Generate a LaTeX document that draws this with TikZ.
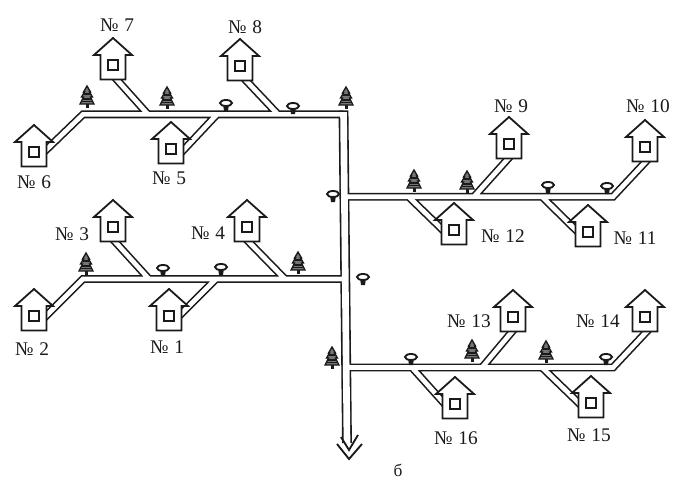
\documentclass[tikz,border=0pt]{standalone}
\usepackage{fontspec}
\setmainfont{Liberation Serif}
\definecolor{dwInk}{HTML}{1A1A1A}
\tikzset{
  wall/.style={draw=dwInk, line width=1.35pt, line join=miter, fill=white},
  numlbl/.style={font=\fontsize{14.5}{16}\selectfont, text=dwInk, inner sep=0pt},
  housepic/.pic={
    \draw[wall] (-12.5,-10) -- (-19,-10) -- (0,-27) -- (19,-10) -- (12.5,-10) -- (12.5,14.5) -- (-12.5,14.5) -- cycle;
    \draw[wall] (-5,-5) rectangle (5,5);
  },
  treepic/.pic={
    \fill[dwInk] (-1.5,6) rectangle (1.5,11);
    \fill[dwInk!60, draw=dwInk, line width=1pt] (0,-11) -- (3.5,-5) -- (2.5,-5) -- (5.5,0) -- (3.5,0) -- (7,7) -- (-7,7) -- (-3.5,0) -- (-5.5,0) -- (-2.5,-5) -- (-3.5,-5) -- cycle;
    \draw[dwInk, line width=1pt] (-3.5,-3) -- (3.5,-3) (-4.5,2) -- (4.5,2) (-5.5,4.5) -- (5.5,4.5);
  },
  hatchpic/.pic={
    \fill[dwInk] (-3,0) -- (-2,7) -- (2,7) -- (3,0) -- cycle;
    \draw[wall, line width=1.4pt] (0,-1) ellipse (6 and 3);
  },
  chevron/.style={draw=dwInk, line width=1.4pt, line join=miter},
}
\newcommand{\branchpaths}{
  (v6) -- (b6) -- (p6)
  (j5) -- (p5) (j7) -- (p7) (j8) -- (p8)
  (v2) -- (b2) -- (p2)
  (j1) -- (p1) (j3) -- (p3) (j4) -- (p4)
  (v9) -- (b10) -- (p10)
  (j9) -- (p9) (j12) -- (p12) (j11) -- (p11)
  (v13) -- (b14) -- (p14)
  (j13) -- (p13) (j16) -- (p16) (j15) -- (p15)
}

\begin{document}
\begin{tikzpicture}[x=0.75pt, y=-0.75pt]
  \useasboundingbox (0,0) rectangle (675,482);

  % main line and bends
  \coordinate (top) at (343.5,110.5);
  \coordinate (bot) at (347,443);
  \coordinate (b6)  at (83,114.4);
  \coordinate (v6)  at (343.5,114.4);
  \coordinate (b2)  at (83,279);
  \coordinate (v2)  at (346,279);
  \coordinate (v9)  at (346,196.7);
  \coordinate (b10) at (613,196.7);
  \coordinate (v13) at (346,367.5);
  \coordinate (b14) at (613,367.5);

  % junction on the street, end inside the house
  \foreach \n/\jx/\jy/\px/\py in {
    5/217/114.4/177/157, 7/148/114.4/110/72, 8/278/114.4/238/72,
    1/216/279/175/320, 3/149/279/109/235, 4/285/279/242/235,
    9/474/196.7/515/151, 12/408.5/196.7/450/237, 11/542/196.7/585/239,
    13/482/367.5/516/327, 16/412/367.5/451/411, 15/542/367.5/586/410}{
    \coordinate (j\n) at (\jx,\jy);
    \coordinate (p\n) at (\px,\py);
  }
  \coordinate (p6) at (43,153);
  \coordinate (p2) at (42,320);
  \coordinate (p10) at (652,155);
  \coordinate (p14) at (651,327);

  % pipes, ink first and then the white core
  \draw[draw=dwInk, line width=7.4pt] (top) -- (bot);
  \draw[draw=dwInk, line width=5.9pt] \branchpaths;
  \draw[draw=white, line width=5pt, shorten <=1.2pt] (top) -- (bot);
  \draw[draw=white, line width=3.5pt] \branchpaths;

  % arrow at the lower end
  \coordinate (tip1) at (349,450);
  \coordinate (tip2) at (349,459);
  \draw[chevron] (341,437) -- (tip1) -- (358,435);
  \draw[chevron] (337,444) -- (tip2) -- (362,444);

  % houses
  \foreach \n/\x/\y in {
    1/169/316, 2/34/316, 3/113/227, 4/247/227,
    5/171/149, 6/34/152, 7/113/65, 8/240/66,
    9/509/144, 10/645/147, 11/588/232, 12/454/230,
    13/513/317, 14/645/317, 15/591/403, 16/455/404}{
    \coordinate (h\n) at (\x,\y);
    \pic at (h\n) {housepic};
  }

  % trees
  \foreach \x/\y in {87/97, 167/98, 346/98, 414/181, 467/182, 86/264, 298/263, 332/358, 472/351, 546/352}
    \pic at (\x,\y) {treepic};

  % hatches
  \foreach \x/\y in {226/104, 293/107, 333/195, 363/278, 548/186, 607/187, 163/269, 221/268, 411/358, 606/358}
    \pic at (\x,\y) {hatchpic};

  % numbers
  \foreach \n/\x/\y in {
    1/167/347, 2/32/349, 3/72/234, 4/208/233,
    5/169/178, 6/34/182, 7/117/25, 8/245/27,
    9/511/106, 10/648/106, 11/635/238, 12/503/236,
    13/469/321, 14/598/321, 15/589/435, 16/456/438}
    \node[numlbl] (l\n) at (\x,\y) {№\hspace{0.3em}\n};
  \node[numlbl, font=\fontsize{13}{14}\selectfont] (cap) at (398,470) {б};
\end{tikzpicture}
\end{document}
